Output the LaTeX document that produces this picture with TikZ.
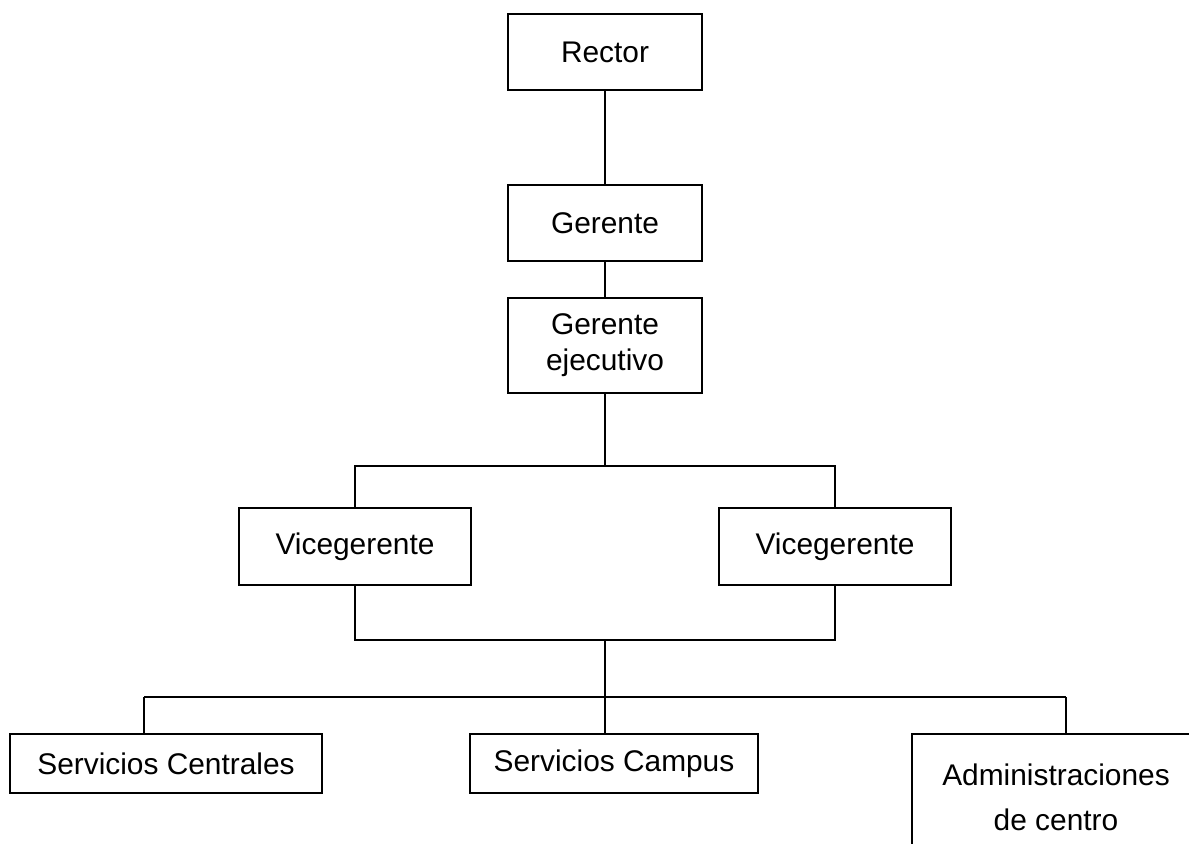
\documentclass[tikz,border=0pt]{standalone}
\usepackage{fontspec}
\setmainfont{Liberation Sans}
\begin{document}
\begin{tikzpicture}[x=0.02cm, y=-0.02cm, line width=1.1pt, font=\fontsize{17}{20.4}\selectfont, main/.style = {draw, rectangle, inner sep=0pt, align=center}]
		\clip (0,0) rectangle (1189,843);
		\node[main, minimum width=3.88cm, minimum height=1.52cm] (rector) at (605,52) {Rector};
		\node[main, minimum width=3.88cm, minimum height=1.52cm] (ger) at (605,223) {Gerente};
		\node[main, minimum width=3.88cm, minimum height=1.9cm] (ejec) at (605,345.5) {Gerente\\ejecutivo};
		
		\node[main, minimum width=4.64cm, minimum height=1.54cm] (vl) at (355,546.5) {Vicegerente};
		\node[main, minimum width=4.64cm, minimum height=1.54cm] (vr) at (835,546.5) {Vicegerente};
		
		\node[main, minimum width=6.24cm, minimum height=1.18cm] (sc) at (166,763.5) {Servicios Centrales};
		\node[main, minimum width=5.76cm, minimum height=1.18cm] (camp) at (614,763.5) {Servicios Campus};
		\node[main, minimum width=5.76cm, minimum height=2.52cm] (adm) at (1056,797) {Administraciones\\[5pt]de centro};
		
		\coordinate (j1) at (605,466);
		\coordinate (j2) at (605,640);
		\coordinate (j3) at (605,697);
		\coordinate (k1) at (144,697);
		\coordinate (k2) at (1066,697);
		
		\draw (rector) -- (ger);
		\draw (ger) -- (ejec);
		\draw (ejec.south -| j1) -- (j1);
		\draw (vl) |- (j1) -| (vr);
		\draw (vl) |- (j2) -| (vr);
		\draw (j2) -- (j3);
		\draw (k1) -- (k2);
		\draw (k1) -- (k1 |- sc.north);
		\draw (j3) -- (j3 |- camp.north);
		\draw (k2) -- (k2 |- adm.north);
		
\end{tikzpicture}
\end{document}
